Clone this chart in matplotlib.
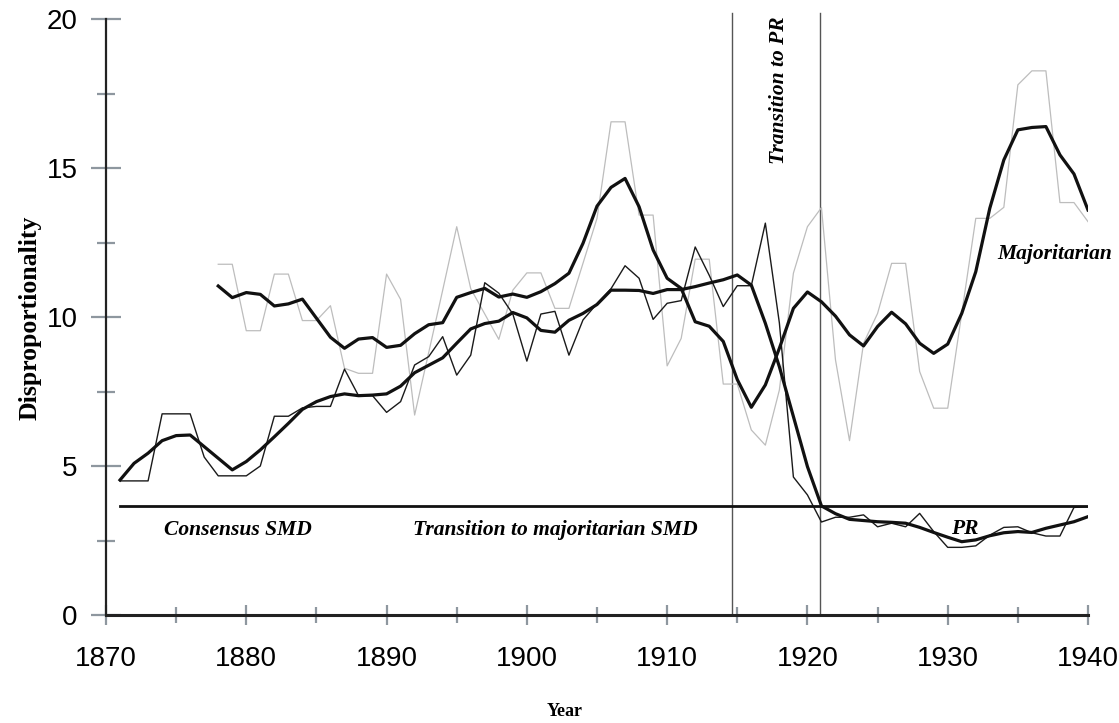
import matplotlib
matplotlib.use("Agg")
import matplotlib.pyplot as plt
from matplotlib.ticker import MultipleLocator

# ---------------- data ----------------
years_cons = list(range(1871, 1941))
cons_annual = [4.5, 4.5, 4.5, 6.75, 6.75, 6.75, 5.3, 4.67, 4.67, 4.67,
               5.0, 6.67, 6.67, 6.95, 7.0, 7.0, 8.25, 7.36, 7.36, 6.8,
               7.16, 8.39, 8.67, 9.34, 8.05, 8.72, 11.15, 10.8, 10.1, 8.52,
               10.1, 10.19, 8.72, 9.9, 10.45, 10.95, 11.72, 11.3, 9.92, 10.46,
               10.55, 12.35, 11.4, 10.35, 11.05, 11.05, 13.15, 9.8, 4.63, 4.03,
               3.12, 3.28, 3.28, 3.36, 2.96, 3.08, 2.96, 3.41, 2.8, 2.27,
               2.27, 2.32, 2.68, 2.94, 2.96, 2.76, 2.65, 2.65, 3.61, 3.63]
cons_smooth = [4.53, 5.09, 5.43, 5.85, 6.02, 6.04, 5.65, 5.26, 4.87, 5.15,
               5.54, 5.98, 6.43, 6.9, 7.16, 7.33, 7.42, 7.36, 7.38, 7.42,
               7.68, 8.13, 8.38, 8.63, 9.12, 9.6, 9.78, 9.86, 10.15, 9.97,
               9.55, 9.49, 9.89, 10.12, 10.42, 10.9, 10.9, 10.89, 10.79, 10.92,
               10.92, 11.02, 11.14, 11.25, 11.41, 11.07, 9.79, 8.33, 6.66, 4.98,
               3.66, 3.4, 3.21, 3.17, 3.13, 3.11, 3.08, 2.94, 2.77, 2.61,
               2.46, 2.52, 2.66, 2.76, 2.8, 2.77, 2.91, 3.02, 3.13, 3.3]

years_maj = list(range(1878, 1941))
maj_annual = [11.77, 11.77, 9.54, 9.54, 11.44, 11.44, 9.88, 9.88, 10.38, 8.28,
              8.11, 8.11, 11.44, 10.59, 6.71, 8.8, 10.9, 13.03, 10.95, 10.1,
              9.25, 10.9, 11.48, 11.48, 10.29, 10.29, 11.8, 13.31, 16.55, 16.55,
              13.42, 13.42, 8.36, 9.28, 11.94, 11.94, 7.75, 7.75, 6.21, 5.7,
              7.55, 11.47, 13.03, 13.67, 8.56, 5.85, 9.12, 10.12, 11.8, 11.8,
              8.17, 6.94, 6.94, 10.12, 13.31, 13.31, 13.68, 17.79, 18.26, 18.26,
              13.84, 13.84, 13.2]
maj_smooth = [11.04, 10.65, 10.82, 10.76, 10.37, 10.44, 10.6, 9.96, 9.32, 8.95,
              9.26, 9.31, 8.98, 9.05, 9.44, 9.74, 9.81, 10.66, 10.82, 10.96,
              10.67, 10.77, 10.66, 10.85, 11.12, 11.47, 12.47, 13.72, 14.35, 14.65,
              13.7, 12.25, 11.3, 10.96, 9.84, 9.69, 9.18, 7.9, 6.97, 7.72,
              8.95, 10.29, 10.84, 10.51, 10.03, 9.4, 9.03, 9.68, 10.16, 9.77,
              9.12, 8.78, 9.09, 10.12, 11.52, 13.65, 15.27, 16.28, 16.36, 16.39,
              15.44, 14.8, 13.59]

threshold_years = [1871, 1940]
threshold_value = [3.67, 3.67]
period_breaks = [1914.6, 1920.9]

xticks = [1870, 1880, 1890, 1900, 1910, 1920, 1930, 1940]
yticks = [0, 5, 10, 15, 20]

# ---------------- figure ----------------
fig = plt.figure(figsize=(11.19, 7.23), dpi=100)
ax = fig.add_axes([106 / 1119, 1 - 615 / 723, (1088 - 106) / 1119, (615 - 19) / 723])

ax.plot(years_maj, maj_annual, color="#bdbdbd", lw=0.9, zorder=2)
ax.plot(years_cons, cons_annual, color="#1a1a1a", lw=1.0, zorder=3)
ax.plot(threshold_years, threshold_value, color="#111111", lw=2.0, zorder=3)
ax.plot(years_maj, maj_smooth, color="#111111", lw=2.3, zorder=4)
ax.plot(years_cons, cons_smooth, color="#111111", lw=2.3, zorder=4)
for xb in period_breaks:
    ax.plot([xb, xb], [0, 20.2], color="#555555", lw=1.0, zorder=1, clip_on=False)

ax.set_xlim(1870, 1940)
ax.set_ylim(0, 20)
ax.set_xticks(xticks)
ax.set_yticks(yticks)
ax.xaxis.set_minor_locator(MultipleLocator(5))
ax.yaxis.set_minor_locator(MultipleLocator(2.5))

for s in ["top", "right"]:
    ax.spines[s].set_visible(False)
ax.spines["left"].set_color("#222222")
ax.spines["left"].set_linewidth(1.6)
ax.spines["bottom"].set_color("#222222")
ax.spines["bottom"].set_linewidth(2.2)

tc = "#8e979f"
ax.tick_params(axis="y", which="major", direction="inout", length=21, width=1.6,
               color=tc, labelsize=20, pad=10)
ax.tick_params(axis="y", which="minor", direction="inout", length=13, width=1.6, color=tc)
ax.tick_params(axis="x", which="major", direction="inout", length=15, width=1.6,
               color=tc, labelsize=20, pad=15)
ax.tick_params(axis="x", which="minor", direction="inout", length=11, width=1.6, color=tc)
for lab in ax.get_xticklabels() + ax.get_yticklabels():
    lab.set_family("Liberation Sans")

serif = "Liberation Serif"
fig.text(30 / 1119, 1 - 318 / 723, "Disproportionality", family=serif, fontweight="bold",
         fontsize=18.5, rotation=90, ha="center", va="center")
fig.text(565 / 1119, 1 - 712 / 723, "Year", family=serif, fontweight="bold",
         fontsize=13, ha="center", va="center")

tkw = dict(family=serif, fontweight="bold", style="italic", fontsize=15.5,
           ha="center", va="center", zorder=6)
ax.text(1879.4, 2.85, "Consensus SMD", **tkw)
ax.text(1902.0, 2.85, "Transition to majoritarian SMD", **tkw)
ax.text(1931.2, 2.9, "PR", **tkw)
ax.text(1937.6, 12.1, "Majoritarian", **tkw)
ax.text(1918.0, 17.6, "Transition to PR", rotation=90, **tkw)

fig.savefig("out.png", dpi=100)
